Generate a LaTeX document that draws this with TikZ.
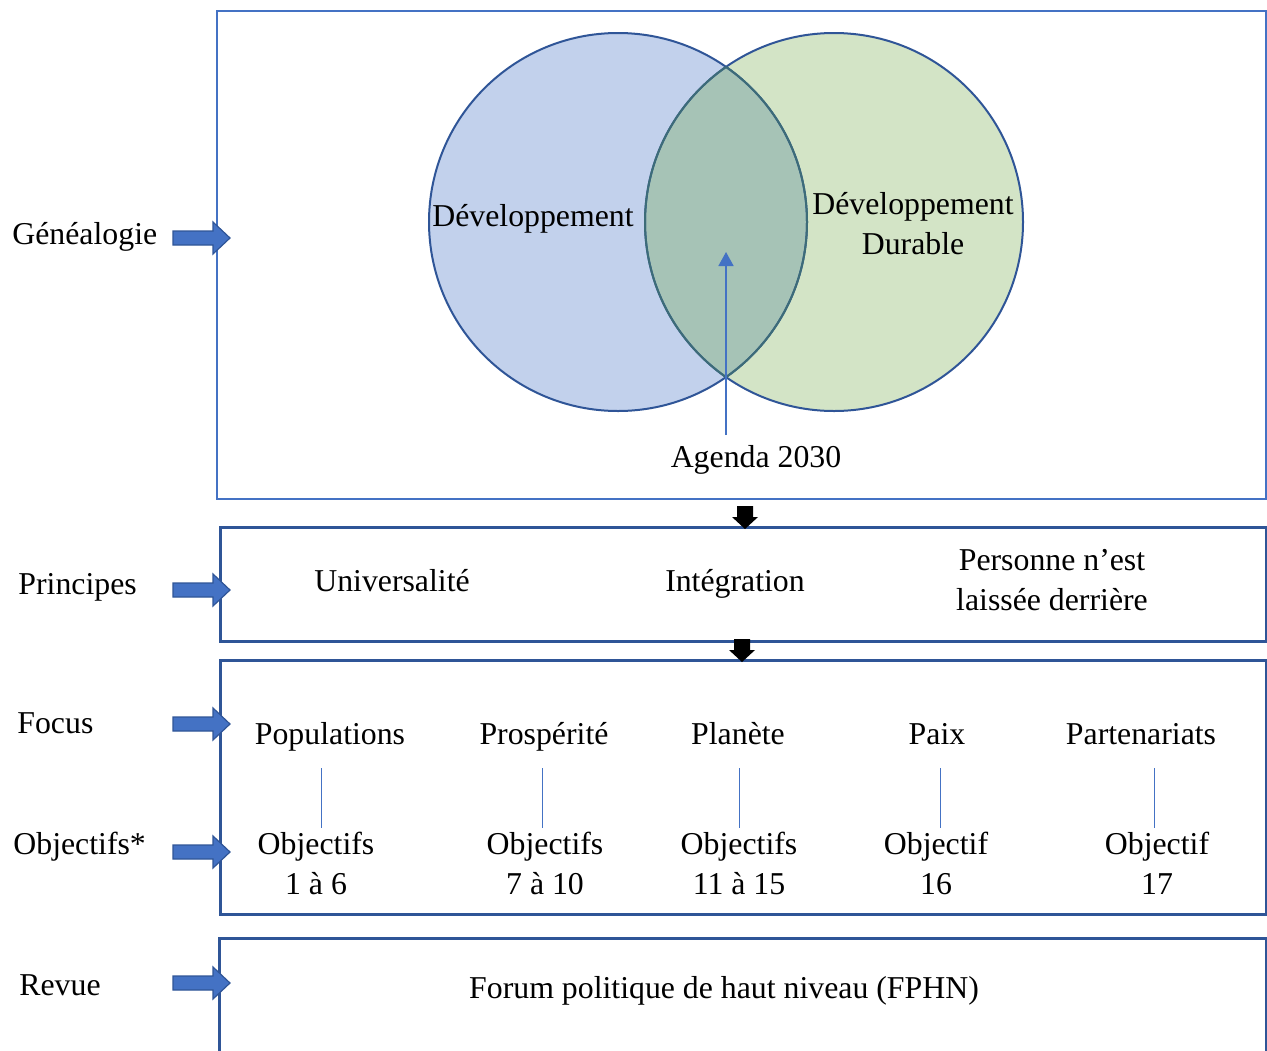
\documentclass[tikz,border=0pt]{standalone}
\usepackage{fontspec}
\setmainfont{Liberation Serif}
\usetikzlibrary{arrows.meta}
\definecolor{frameblue}{HTML}{2F5597}
\definecolor{lineblue}{HTML}{4472C4}
\definecolor{devblue}{HTML}{C2D1EC}
\definecolor{durgreen}{HTML}{D3E4C6}
\definecolor{overlap}{HTML}{A6C3B6}
\definecolor{innerarc}{HTML}{3D6C78}

\tikzset{
  lbl/.style={font=\fontsize{15.9}{20}\selectfont, inner sep=0pt},
  box/.style={draw=frameblue, line width=1.5pt},
  sidearrow/.pic={
    \draw[fill=lineblue, draw=frameblue, line width=0.6pt]
      (0,-7) -- (40,-7) -- (40,-16) -- (57,0) -- (40,16) -- (40,7) -- (0,7) -- cycle;
  },
  downarrow/.pic={
    \fill[black] (-8,-23) -- (8,-23) -- (8,-12) -- (13,-12) -- (0,0)
      -- (-13,-12) -- (-8,-12) -- cycle;
  }
}

\begin{document}
\begin{tikzpicture}[x=0.5pt, y=-0.5pt]
  \useasboundingbox (0,0) rectangle (1267,1050);

  % Genealogy frame
  \draw[lineblue, line width=1pt] (217,11) rectangle (1266,499);

  % Venn circles
  \fill[devblue] (618,222) circle (189);
  \fill[durgreen] (834,222) circle (189);
  \begin{scope}
    \clip (618,222) circle (189);
    \fill[overlap] (834,222) circle (189);
  \end{scope}
  \draw[frameblue, line width=1pt] (618,222) circle (189);
  \draw[frameblue, line width=1pt] (834,222) circle (189);
  \begin{scope}
    \clip (618,222) circle (189);
    \draw[innerarc, line width=1pt] (834,222) circle (189);
  \end{scope}
  \begin{scope}
    \clip (834,222) circle (189);
    \draw[innerarc, line width=1pt] (618,222) circle (189);
  \end{scope}

  \node[lbl, anchor=base] (dev) at (533,226) {Développement};
  \node[lbl, align=center] (durable) at (913,224) {Développement\\Durable};

  % Agenda 2030 pointer
  \node[lbl, anchor=base] (agenda) at (756,467) {Agenda 2030};
  \coordinate (abase) at (726,435);
  \coordinate (atip) at (726,252);
  \draw[lineblue, line width=0.8pt, -{Triangle[length=7pt, width=7.5pt]}] (abase) -- (atip);

  % Principles
  \draw[box] (220,527) rectangle (1266,641);
  \node[lbl, anchor=base] (univ) at (392,591) {Universalité};
  \node[lbl, anchor=base] (integ) at (735,591) {Intégration};
  \node[lbl, align=center] (personne) at (1052,580) {Personne n’est\\laissée derrière};

  % Focus and goals
  \draw[box] (220,660) rectangle (1266,914);
  \foreach \i/\fx/\lx/\ox/\ftxt/\otxt in {
      1/330/321/316/Populations/{Objectifs\\1 à 6},
      2/544/542/545/Prospérité/{Objectifs\\7 à 10},
      3/738/739/739/Planète/{Objectifs\\11 à 15},
      4/937/940/936/Paix/{Objectif\\16},
      5/1141/1154/1157/Partenariats/{Objectif\\17}} {
    \node[lbl, anchor=base] (f\i) at (\fx,744) {\ftxt};
    \node[lbl, align=center] (o\i) at (\ox,863) {\otxt};
    \coordinate (t\i) at (\lx,768);
    \coordinate (b\i) at (\lx,828);
    \draw[lineblue, line width=0.5pt] (t\i) -- (b\i);
  }

  % Review
  \draw[box] (219,1054) -- (219,938) -- (1266,938) -- (1266,1054);
  \node[lbl, anchor=base] (forum) at (724,998) {Forum politique de haut niveau (FPHN)};

  % Arrows between frames
  \pic at (745,529) {downarrow};
  \pic at (742,662) {downarrow};

  % Side labels
  \foreach \i/\lx/\ly/\ay/\txt in {gen/12/244/238/Généalogie, pri/18/594/590/Principes,
      foc/17/733/724/Focus, obj/13/854/852/Objectifs*, rev/19/995/983/Revue} {
    \node[lbl, anchor=base west] (\i) at (\lx,\ly) {\txt};
    \pic at (173,\ay) {sidearrow};
  }
\end{tikzpicture}
\end{document}
